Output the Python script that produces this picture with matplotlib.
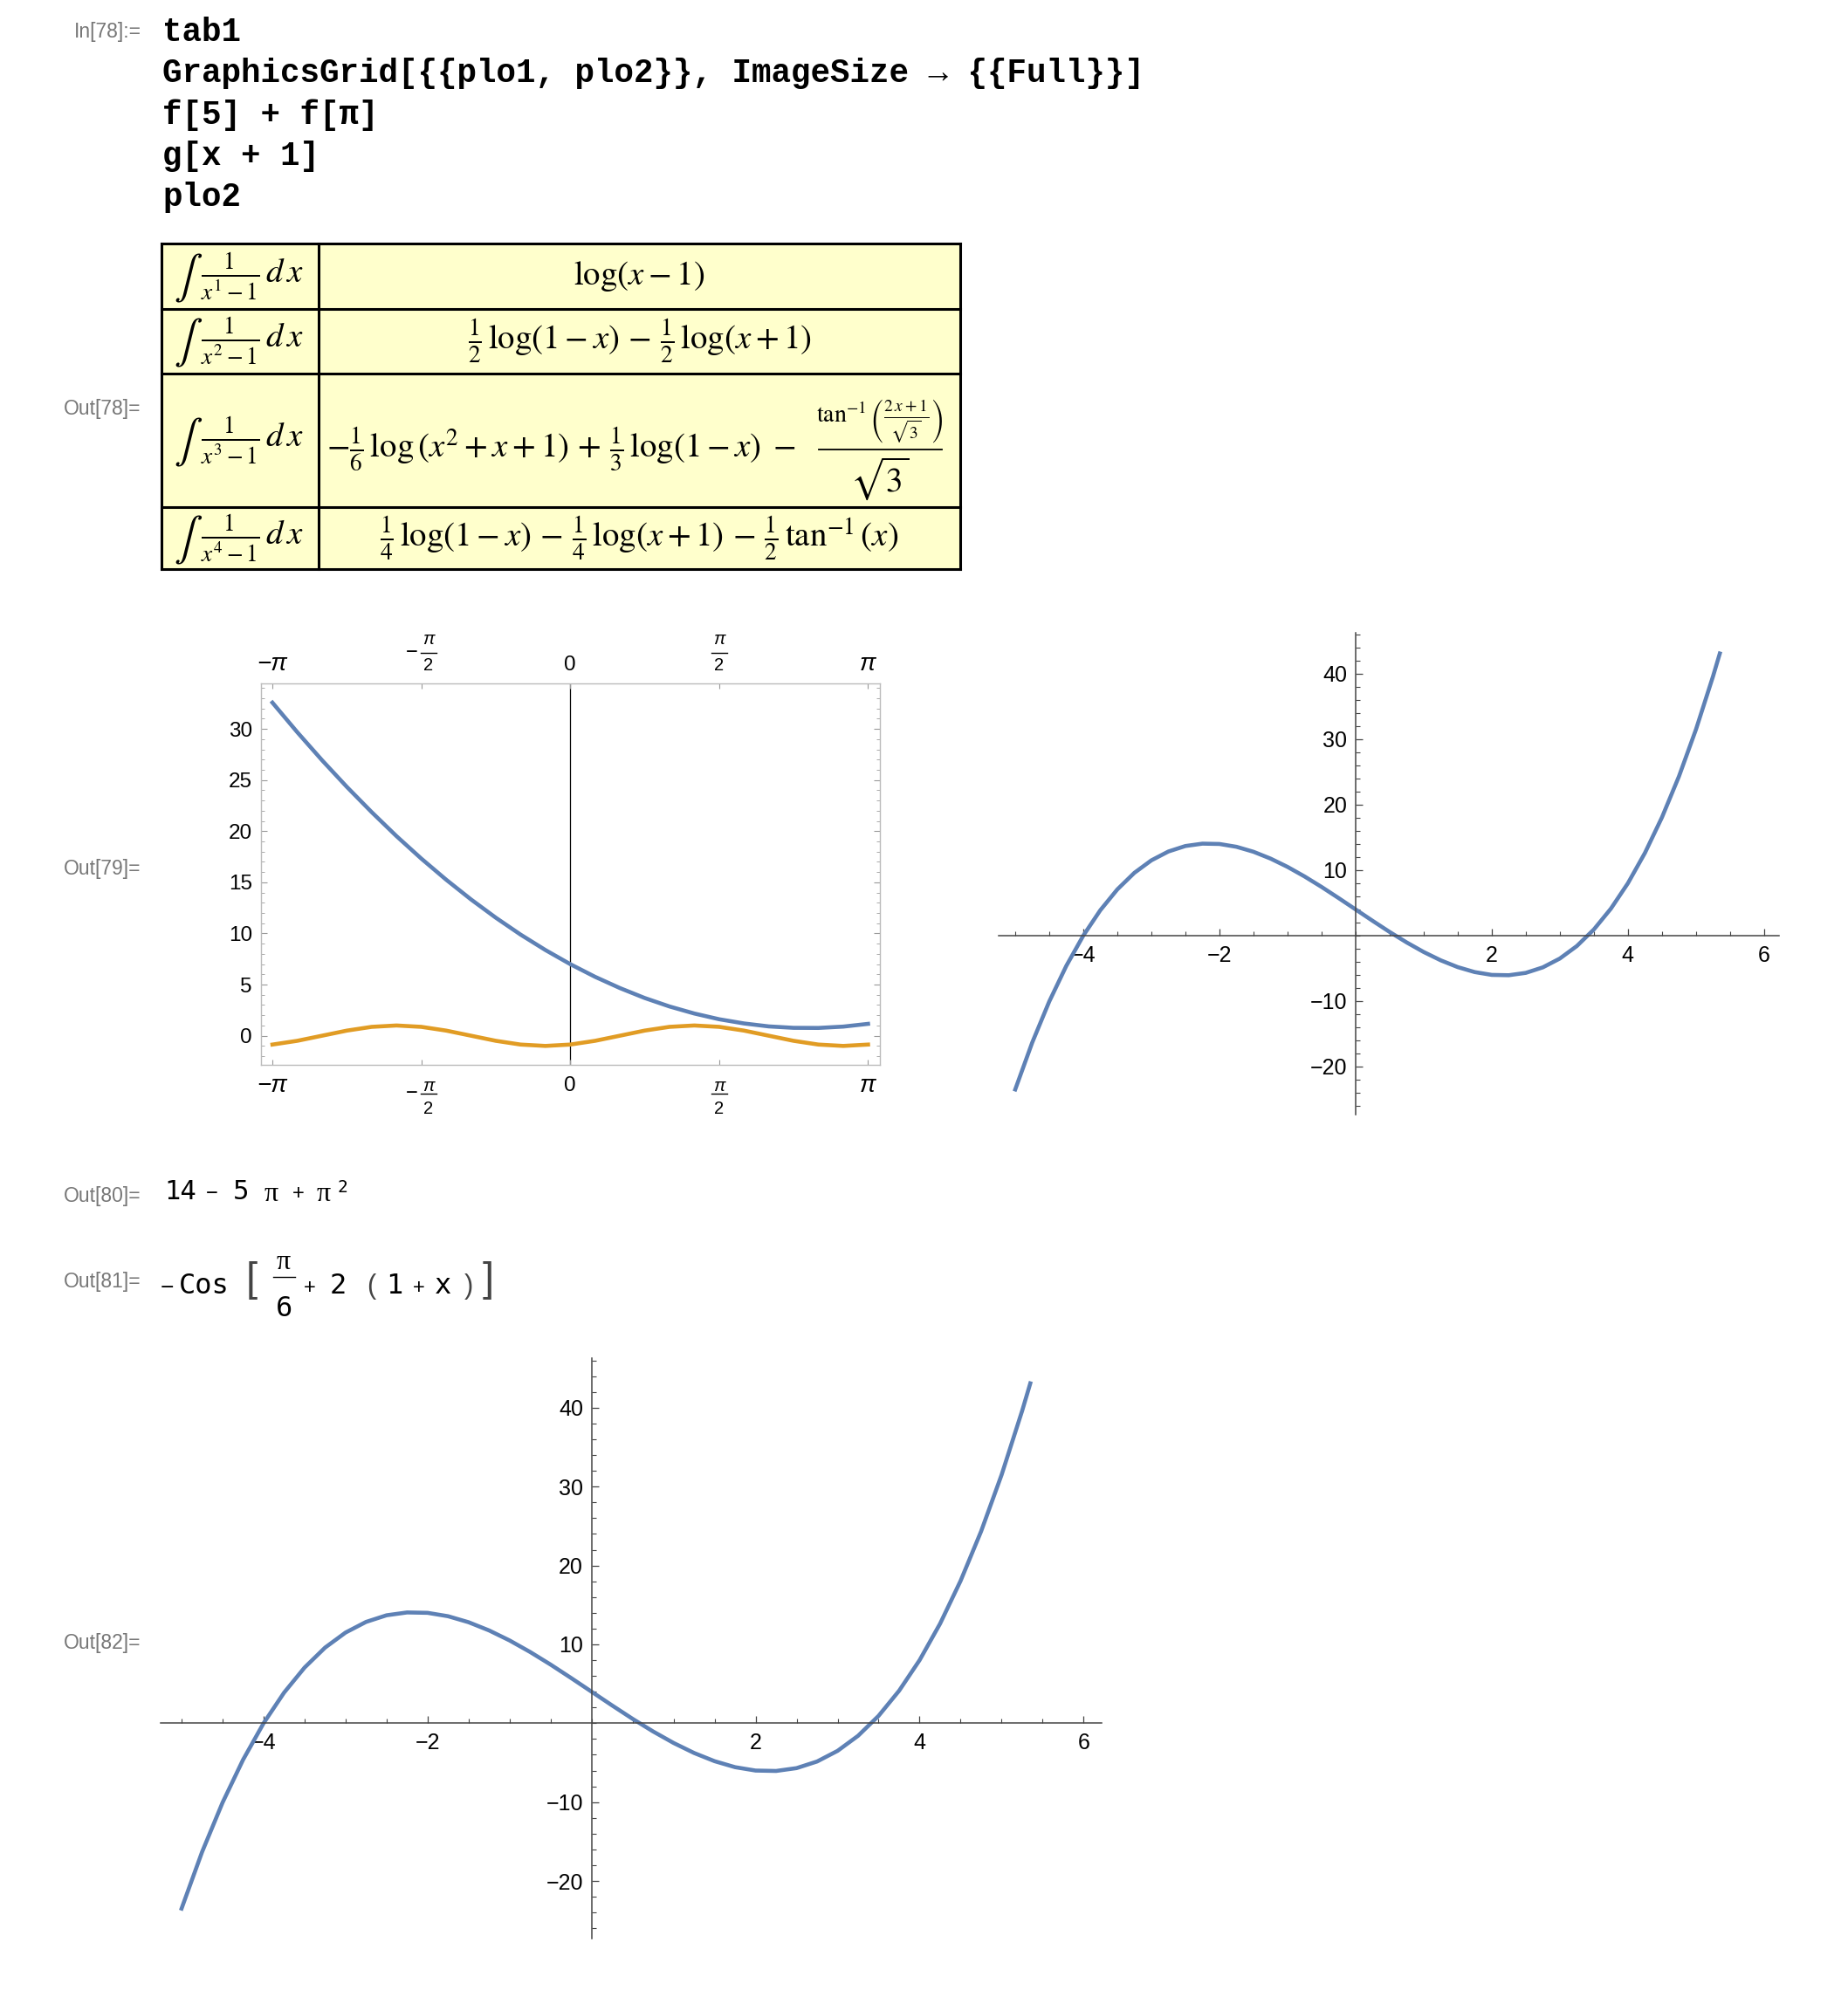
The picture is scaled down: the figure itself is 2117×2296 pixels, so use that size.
import numpy as np
import matplotlib
matplotlib.use("Agg")
import matplotlib.pyplot as plt
from matplotlib.ticker import MultipleLocator
from matplotlib.patches import Rectangle
from matplotlib.transforms import offset_copy

plt.rcParams['font.family'] = ['Liberation Sans', 'DejaVu Sans']
plt.rcParams['mathtext.fontset'] = 'stixsans'

W, H = 2117, 2296

# ---- notebook text ----
in_label = "In[78]:="
code_lines = ["tab1",
              "GraphicsGrid[{{plo1, plo2}}, ImageSize → {{Full}}]",
              "f[5] + f[π]",
              "g[x + 1]",
              "plo2"]
out_labels = ["Out[78]=", "Out[79]=", "Out[80]=", "Out[81]=", "Out[82]="]

# ---- tab1 ----
integrands = [r"$\frac{1}{x^{1}-1}\,d\,x$",
              r"$\frac{1}{x^{2}-1}\,d\,x$",
              r"$\frac{1}{x^{3}-1}\,d\,x$",
              r"$\frac{1}{x^{4}-1}\,d\,x$"]
antiderivs = [r"$\log(x-1)$",
              r"$\frac{1}{2}\,\log(1-x)\,-\,\frac{1}{2}\,\log(x+1)$",
              r"$-\frac{1}{6}\,\log\left(x^{2}+x+1\right)\,+\,\frac{1}{3}\,\log(1-x)\;-$",
              r"$\frac{1}{4}\,\log(1-x)\,-\,\frac{1}{4}\,\log(x+1)\,-\,\frac{1}{2}\,\tan^{-1}(x)$"]
row3_num = r"$\tan^{-1}\left(\frac{2\,x+1}{\sqrt{3}}\right)$"
row3_den = r"$\sqrt{3}$"

# ---- plo1 : f and g on [-pi, pi] ----
x1 = [-3.142, -2.880, -2.618, -2.356, -2.094, -1.833, -1.571, -1.309, -1.047,
      -0.785, -0.524, -0.262, 0.0, 0.262, 0.524, 0.785, 1.047, 1.309, 1.571,
      1.833, 2.094, 2.356, 2.618, 2.880, 3.142]
f_vals = [32.58, 29.69, 26.94, 24.33, 21.86, 19.52, 17.32, 15.26, 13.33,
          11.54, 9.89, 8.38, 7.00, 5.76, 4.66, 3.69, 2.86, 2.17, 1.61,
          1.20, 0.91, 0.77, 0.76, 0.89, 1.16]
g_vals = [-0.866, -0.5, 0.0, 0.5, 0.866, 1.0, 0.866, 0.5, 0.0,
          -0.5, -0.866, -1.0, -0.866, -0.5, 0.0, 0.5, 0.866, 1.0, 0.866,
          0.5, 0.0, -0.5, -0.866, -1.0, -0.866]
x1_ticks = [-np.pi, -np.pi / 2, 0, np.pi / 2, np.pi]
# (sign, numerator, denominator) for each tick label
x1_labels = [("−", "π", None), ("−", "π", "2"), ("", "0", None), ("", "π", "2"), ("", "π", None)]
y1_ticks = [0, 5, 10, 15, 20, 25, 30]

# ---- plo2 : cubic ----
x2 = [-5.0, -4.75, -4.5, -4.25, -4.0, -3.75, -3.5, -3.25, -3.0, -2.75, -2.5,
      -2.25, -2.0, -1.75, -1.5, -1.25, -1.0, -0.75, -0.5, -0.25, 0.0, 0.25,
      0.5, 0.75, 1.0, 1.25, 1.5, 1.75, 2.0, 2.25, 2.5, 2.75, 3.0, 3.25, 3.5,
      3.75, 4.0, 4.25, 4.5, 4.75, 5.0, 5.25, 5.35]
y2 = [-23.5, -16.33, -10.06, -4.63, 0.0, 3.88, 7.06, 9.59, 11.5, 12.85, 13.69,
      14.05, 14.0, 13.57, 12.81, 11.77, 10.5, 9.04, 7.44, 5.74, 4.0, 2.26,
      0.56, -1.04, -2.5, -3.77, -4.81, -5.57, -6.0, -6.05, -5.69, -4.85, -3.5, -1.59, 0.94,
      4.12, 8.0, 12.63, 18.06, 24.33, 31.5, 39.6, 43.1]
x2_ticks = [-4, -2, 2, 4, 6]
y2_ticks = [-20, -10, 10, 20, 30, 40]

blue = '#5E81B5'
orange = '#E19C24'
label_gray = '#777777'
MONO = ['DejaVu Sans Mono']
SANS = ['Liberation Sans', 'DejaVu Sans']
SERIF = ['Liberation Serif', 'DejaVu Serif']

fig = plt.figure(figsize=(W / 100, H / 100), dpi=100)
fig.patch.set_facecolor('white')

page = fig.add_axes([0, 0, 1, 1])
page.set_xlim(0, W)
page.set_ylim(H, 0)
page.axis('off')

# input cell
page.text(162, 36.6, in_label, ha='right', va='center', fontsize=16.5, color=label_gray)
for yy, line in zip([36.6, 83.5, 131.8, 178.6, 225.5], code_lines):
    page.text(186, yy, line, ha='left', va='center', fontsize=27, fontweight='bold',
              family=['Liberation Mono', 'DejaVu Sans Mono'])

# output labels
for yy, lab in zip([468.5, 995.6, 1370, 1468.5, 1883], out_labels):
    page.text(161, yy, lab, ha='right', va='center', fontsize=16.5, color=label_gray)


def glyph(s, x, y, fam, size, ha='center', color='black'):
    page.text(x, y, s, ha=ha, va='center', fontsize=size, family=fam, color=color)


# Out[80]:  14 - 5 pi + pi^2
glyph("14", 188, 1366, MONO, 22, ha='left')
glyph("−", 243, 1368, SANS, 17)
glyph("5", 276, 1366, MONO, 22)
glyph("π", 311, 1368, SERIF, 23)
glyph("+", 342, 1368, SANS, 17)
glyph("π", 371, 1368, SERIF, 23)
glyph("2", 392, 1361, MONO, 14)

# Out[81]:  -Cos[pi/6 + 2 (1 + x)]
glyph("−", 191, 1476, SANS, 19)
glyph("Cos", 205, 1474, MONO, 23, ha='left')
glyph("[", 288, 1467, SANS, 34, color='#444444')
glyph("π", 325, 1446, SERIF, 23)
page.plot([313, 338], [1463, 1463], color='black', lw=1.0)
glyph("6", 325, 1499, MONO, 23)
glyph("+", 355, 1476, SANS, 17)
glyph("2", 387, 1474, MONO, 23)
glyph("(", 425, 1474, SANS, 22, color='#444444')
glyph("1", 452, 1474, MONO, 23)
glyph("+", 480, 1476, SANS, 17)
glyph("x", 507, 1474, MONO, 23)
glyph(")", 537, 1474, SANS, 22, color='#444444')
glyph("]", 559, 1467, SANS, 34, color='#444444')

# table
tl, tr, col = 185, 1100, 365
rows = [279, 354, 428, 581, 652]
page.add_patch(Rectangle((tl, rows[0]), tr - tl, rows[-1] - rows[0],
                         facecolor='#FFFFCC', edgecolor='none'))
for r in rows:
    page.plot([tl, tr], [r, r], color='black', lw=2.2, solid_capstyle='projecting')
for c in [tl, col, tr]:
    page.plot([c, c], [rows[0], rows[-1]], color='black', lw=2.2, solid_capstyle='projecting')
for i in range(4):
    cy = (rows[i] + rows[i + 1]) / 2
    page.text(216, cy + 2, r"$\int$", ha='center', va='center', fontsize=35,
              math_fontfamily='stix')
    page.text(230, cy, integrands[i], ha='left', va='center', fontsize=28,
              math_fontfamily='stix')
    if i == 2:
        page.text(911, 515, antiderivs[i], ha='right', va='center', fontsize=28,
                  math_fontfamily='stix')
        page.text(1008, 510, row3_num, ha='center', va='bottom', fontsize=20,
                  math_fontfamily='stix')
        page.plot([938, 1079], [515, 515], color='black', lw=1.3)
        page.text(1008, 521, row3_den, ha='center', va='top', fontsize=28,
                  math_fontfamily='stix')
    else:
        page.text((col + tr) / 2, cy, antiderivs[i], ha='center', va='center',
                  fontsize=28, math_fontfamily='stix')


def rect(l, r, t, b):
    return [l / W, 1 - b / H, (r - l) / W, (b - t) / H]


# plo1 framed plot
ax1 = fig.add_axes(rect(298.5, 1008, 782.5, 1220))
ax1.set_facecolor('none')
ax1.axvline(0, color='black', lw=0.9, zorder=1)
ax1.plot(x1, f_vals, color=blue, lw=3.3, solid_joinstyle='round')
ax1.plot(x1, g_vals, color=orange, lw=3.3, solid_joinstyle='round')
ax1.set_xlim(-3.267, 3.267)
ax1.set_ylim(-2.85, 34.5)
ax1.set_xticks(x1_ticks)
ax1.set_yticks(y1_ticks)
ax1.yaxis.set_minor_locator(MultipleLocator(1))
for s in ax1.spines.values():
    s.set_color('#BBBBBB')
    s.set_linewidth(1.0)
ax1.tick_params(axis='x', which='major', direction='in', top=True,
                labelbottom=False, labeltop=False,
                length=4, width=0.8, color='#999999')
ax1.tick_params(axis='y', which='major', direction='in', right=True,
                length=4.7, width=0.8, color='#999999', labelsize=17.5, pad=7)
ax1.tick_params(axis='y', which='minor', direction='in', right=True,
                length=2.6, width=0.7, color='#AAAAAA')

# x tick labels (top and bottom), offsets in pixels from the frame
xtr = ax1.get_xaxis_transform()


def put(s, xt, yf, dx, dy, size, style='normal'):
    tr = offset_copy(xtr, fig=fig, x=dx, y=dy, units='dots')
    ax1.text(xt, yf, s, transform=tr, ha='center', va='center', fontsize=size,
             fontstyle=style, clip_on=False)


for xt, (sign, num, den) in zip(x1_ticks, x1_labels):
    for yf, side in [(0, -1), (1, 1)]:
        if den is None:
            dy = -24 if side < 0 else 21
            put(sign + num, xt, yf, 0, dy, 20 if num == "π" else 17.5,
                'italic' if num == "π" else 'normal')
        else:
            if side < 0:
                y_num, y_bar, y_den = -24, -33, -50
            else:
                y_num, y_bar, y_den = 50, 34.5, 19.5
            dx = 8 if sign else 0
            if sign:
                put(sign, xt, yf, -11, y_bar, 17)
            put(num, xt, yf, dx, y_num, 14.5, 'italic')
            put(den, xt, yf, dx, y_den, 14.5)
            btr = offset_copy(xtr, fig=fig, x=dx, y=y_bar, units='dots')
            half = 9 / 108.6
            ax1.plot([xt - half, xt + half], [yf, yf], transform=btr,
                     color='black', lw=1.0, clip_on=False)


def cubic_axes(r):
    ax = fig.add_axes(r)
    ax.set_facecolor('none')
    ax.plot(x2, y2, color=blue, lw=3.3, solid_joinstyle='round')
    ax.set_xlim(-5.25, 6.22)
    ax.set_ylim(-27.3, 46.3)
    ax.spines['left'].set_position(('data', 0))
    ax.spines['bottom'].set_position(('data', 0))
    ax.spines['top'].set_visible(False)
    ax.spines['right'].set_visible(False)
    for s in ['left', 'bottom']:
        ax.spines[s].set_color('#444444')
        ax.spines[s].set_linewidth(1.1)
    ax.set_xticks(x2_ticks)
    ax.set_yticks(y2_ticks)
    ax.xaxis.set_minor_locator(MultipleLocator(0.5))
    ax.yaxis.set_minor_locator(MultipleLocator(2))
    ax.tick_params(which='major', direction='in', length=6, width=0.9,
                   color='#444444', labelsize=18)
    ax.tick_params(which='minor', direction='in', length=3.5, width=0.8, color='#444444')
    ax.tick_params(axis='x', pad=8)
    ax.tick_params(axis='y', pad=7)
    return ax


ax2 = cubic_axes(rect(1143.5, 2038, 724.7, 1276.7))
ax3 = cubic_axes(rect(184.5, 1262, 1556, 2221))

fig.savefig('out.png', dpi=100)
